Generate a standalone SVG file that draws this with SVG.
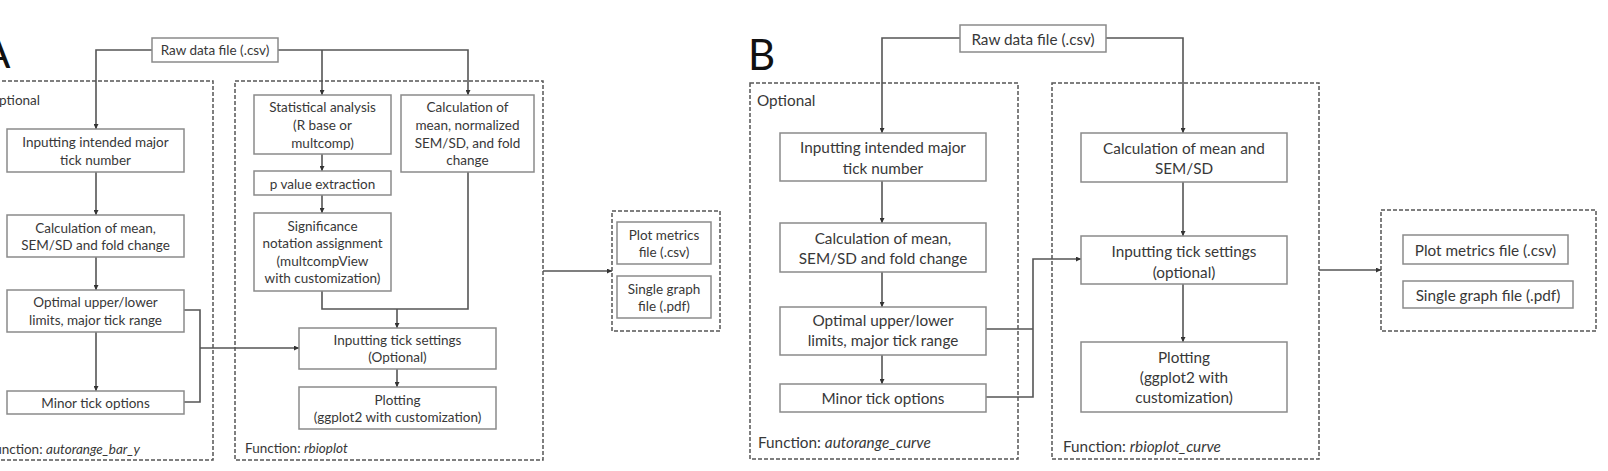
<svg xmlns="http://www.w3.org/2000/svg" width="1608" height="471" viewBox="0 0 1608 471">
<style>
.box{fill:#fff;stroke:#8a8a8a;stroke-width:1.5}
.dash{fill:none;stroke:#555;stroke-width:1.5;stroke-dasharray:4 2}
.c{fill:none;stroke:#555;stroke-width:1.6}
text{font-family:Lato,"Liberation Sans",sans-serif;fill:#383838;dominant-baseline:central}
.a{font-size:13.5px;text-anchor:middle}
.b{font-size:15.3px;text-anchor:middle}
.la{font-size:13.5px}
.lb{font-size:15.3px}
.big{font-size:42px;fill:#111;dominant-baseline:auto}
</style>
<defs>
<marker id="ar" viewBox="0 0 6 6" refX="6" refY="3" markerWidth="5" markerHeight="5" markerUnits="userSpaceOnUse" orient="auto">
<path d="M0,0 L6,3 L0,6 z" fill="#333"/>
</marker>
</defs>
<rect width="1608" height="471" fill="#fff"/>
<text class="big" x="-18" y="68">A</text>
<text class="big" x="748" y="70">B</text>

<g id="groupA-optional"><rect class="dash" x="-10" y="81" width="223" height="379"/>
<text class="la" x="40" y="100" text-anchor="end">Optional</text>
<text class="la" x="-13" y="449">Function: <tspan font-style="italic">autorange_bar_y</tspan></text></g>
<g id="groupA-rbioplot"><rect class="dash" x="235" y="81" width="308" height="379"/>
<text class="la" x="245" y="448">Function: <tspan font-style="italic">rbioplot</tspan></text></g>
<g id="groupA-out"><rect class="dash" x="612" y="211" width="108" height="120"/></g>

<g id="groupB-optional"><rect class="dash" x="750" y="83" width="268" height="376"/>
<text class="lb" x="757" y="100">Optional</text>
<text class="lb" x="758" y="442">Function: <tspan font-style="italic">autorange_curve</tspan></text></g>
<g id="groupB-rbioplot"><rect class="dash" x="1052" y="83" width="267" height="376"/>
<text class="lb" x="1063" y="446">Function: <tspan font-style="italic">rbioplot_curve</tspan></text></g>
<g id="groupB-out"><rect class="dash" x="1381" y="210" width="215" height="121"/></g>

<g id="connectors">
<path class="c" d="M152,50 H96 V129" marker-end="url(#ar)"/>
<path class="c" d="M278,50 H468 V95" marker-end="url(#ar)"/>
<path class="c" d="M322,50 V95" marker-end="url(#ar)"/>
<path class="c" d="M96,172 V215" marker-end="url(#ar)"/>
<path class="c" d="M96,257 V290" marker-end="url(#ar)"/>
<path class="c" d="M96,332 V391" marker-end="url(#ar)"/>
<path class="c" d="M184,310 H200 V402 H184"/>
<path class="c" d="M200,348 H299" marker-end="url(#ar)"/>
<path class="c" d="M322,154 V171" marker-end="url(#ar)"/>
<path class="c" d="M322,195 V213" marker-end="url(#ar)"/>
<path class="c" d="M322,291 V309 H468 V172"/>
<path class="c" d="M397,309 V328" marker-end="url(#ar)"/>
<path class="c" d="M397,369 V387" marker-end="url(#ar)"/>
<path class="c" d="M543,271 H612" marker-end="url(#ar)"/>

<path class="c" d="M960,38 H882 V133" marker-end="url(#ar)"/>
<path class="c" d="M1106,38 H1183 V133" marker-end="url(#ar)"/>
<path class="c" d="M882,181 V223" marker-end="url(#ar)"/>
<path class="c" d="M882,272 V307" marker-end="url(#ar)"/>
<path class="c" d="M882,355 V384" marker-end="url(#ar)"/>
<path class="c" d="M986,329 H1033"/>
<path class="c" d="M986,397 H1033 V259 H1081" marker-end="url(#ar)"/>
<path class="c" d="M1183,182 V236" marker-end="url(#ar)"/>
<path class="c" d="M1183,284 V342" marker-end="url(#ar)"/>
<path class="c" d="M1319,270 H1381" marker-end="url(#ar)"/>
</g>

<g id="rawA"><rect class="box" x="152" y="38" width="126" height="24"/><text class="a" x="215" y="50">Raw data file (.csv)</text></g>
<g id="inputA"><rect class="box" x="7" y="129" width="177" height="43"/><text class="a" x="95.5" y="142">Inputting intended major</text><text class="a" x="95.5" y="160">tick number</text></g>
<g id="calcA1"><rect class="box" x="7" y="215" width="177" height="42"/><text class="a" x="95.5" y="228">Calculation of mean,</text><text class="a" x="95.5" y="245">SEM/SD and fold change</text></g>
<g id="optA"><rect class="box" x="7" y="290" width="177" height="42"/><text class="a" x="95.5" y="302">Optimal upper/lower</text><text class="a" x="95.5" y="320">limits, major tick range</text></g>
<g id="minorA"><rect class="box" x="7" y="391" width="177" height="23"/><text class="a" x="95.5" y="403">Minor tick options</text></g>
<g id="statA"><rect class="box" x="254" y="95" width="137" height="59"/><text class="a" x="322.5" y="107">Statistical analysis</text><text class="a" x="322.5" y="125">(R base or</text><text class="a" x="322.5" y="143">multcomp)</text></g>
<g id="pvalA"><rect class="box" x="254" y="171" width="137" height="24"/><text class="a" x="322.5" y="184">p value extraction</text></g>
<g id="sigA"><rect class="box" x="254" y="213" width="137" height="78"/><text class="a" x="322.5" y="226">Significance</text><text class="a" x="322.5" y="243">notation assignment</text><text class="a" x="322.5" y="261">(multcompView</text><text class="a" x="322.5" y="278">with customization)</text></g>
<g id="calcA2"><rect class="box" x="401" y="95" width="133" height="77"/><text class="a" x="467.5" y="107">Calculation of</text><text class="a" x="467.5" y="125">mean, normalized</text><text class="a" x="467.5" y="143">SEM/SD, and fold</text><text class="a" x="467.5" y="160">change</text></g>
<g id="tickA"><rect class="box" x="299" y="328" width="197" height="41"/><text class="a" x="397.5" y="340">Inputting tick settings</text><text class="a" x="397.5" y="357">(Optional)</text></g>
<g id="plotA"><rect class="box" x="299" y="387" width="197" height="42"/><text class="a" x="397.5" y="400">Plotting</text><text class="a" x="397.5" y="417">(ggplot2 with customization)</text></g>
<g id="pmA"><rect class="box" x="617" y="222" width="94" height="42"/><text class="a" x="664" y="235">Plot metrics</text><text class="a" x="664" y="252">file (.csv)</text></g>
<g id="sgA"><rect class="box" x="617" y="276" width="94" height="42"/><text class="a" x="664" y="289">Single graph</text><text class="a" x="664" y="306">file (.pdf)</text></g>

<g id="rawB"><rect class="box" x="960" y="25" width="146" height="27"/><text class="b" x="1033" y="38.5">Raw data file (.csv)</text></g>
<g id="inputB"><rect class="box" x="780" y="133" width="206" height="48"/><text class="b" x="883" y="147">Inputting intended major</text><text class="b" x="883" y="168">tick number</text></g>
<g id="calcB1"><rect class="box" x="780" y="223" width="206" height="49"/><text class="b" x="883" y="238">Calculation of mean,</text><text class="b" x="883" y="258">SEM/SD and fold change</text></g>
<g id="optB"><rect class="box" x="780" y="307" width="206" height="48"/><text class="b" x="883" y="320">Optimal upper/lower</text><text class="b" x="883" y="340">limits, major tick range</text></g>
<g id="minorB"><rect class="box" x="780" y="384" width="206" height="28"/><text class="b" x="883" y="398">Minor tick options</text></g>
<g id="calcB2"><rect class="box" x="1081" y="133" width="206" height="49"/><text class="b" x="1184" y="148">Calculation of mean and</text><text class="b" x="1184" y="168">SEM/SD</text></g>
<g id="tickB"><rect class="box" x="1081" y="236" width="206" height="48"/><text class="b" x="1184" y="251">Inputting tick settings</text><text class="b" x="1184" y="272">(optional)</text></g>
<g id="plotB"><rect class="box" x="1081" y="342" width="206" height="70"/><text class="b" x="1184" y="357">Plotting</text><text class="b" x="1184" y="377">(ggplot2 with</text><text class="b" x="1184" y="397">customization)</text></g>
<g id="pmB"><rect class="box" x="1403" y="235" width="165" height="29"/><text class="b" x="1485.5" y="250">Plot metrics file (.csv)</text></g>
<g id="sgB"><rect class="box" x="1403" y="281" width="170" height="27"/><text class="b" x="1488" y="295">Single graph file (.pdf)</text></g>
</svg>
